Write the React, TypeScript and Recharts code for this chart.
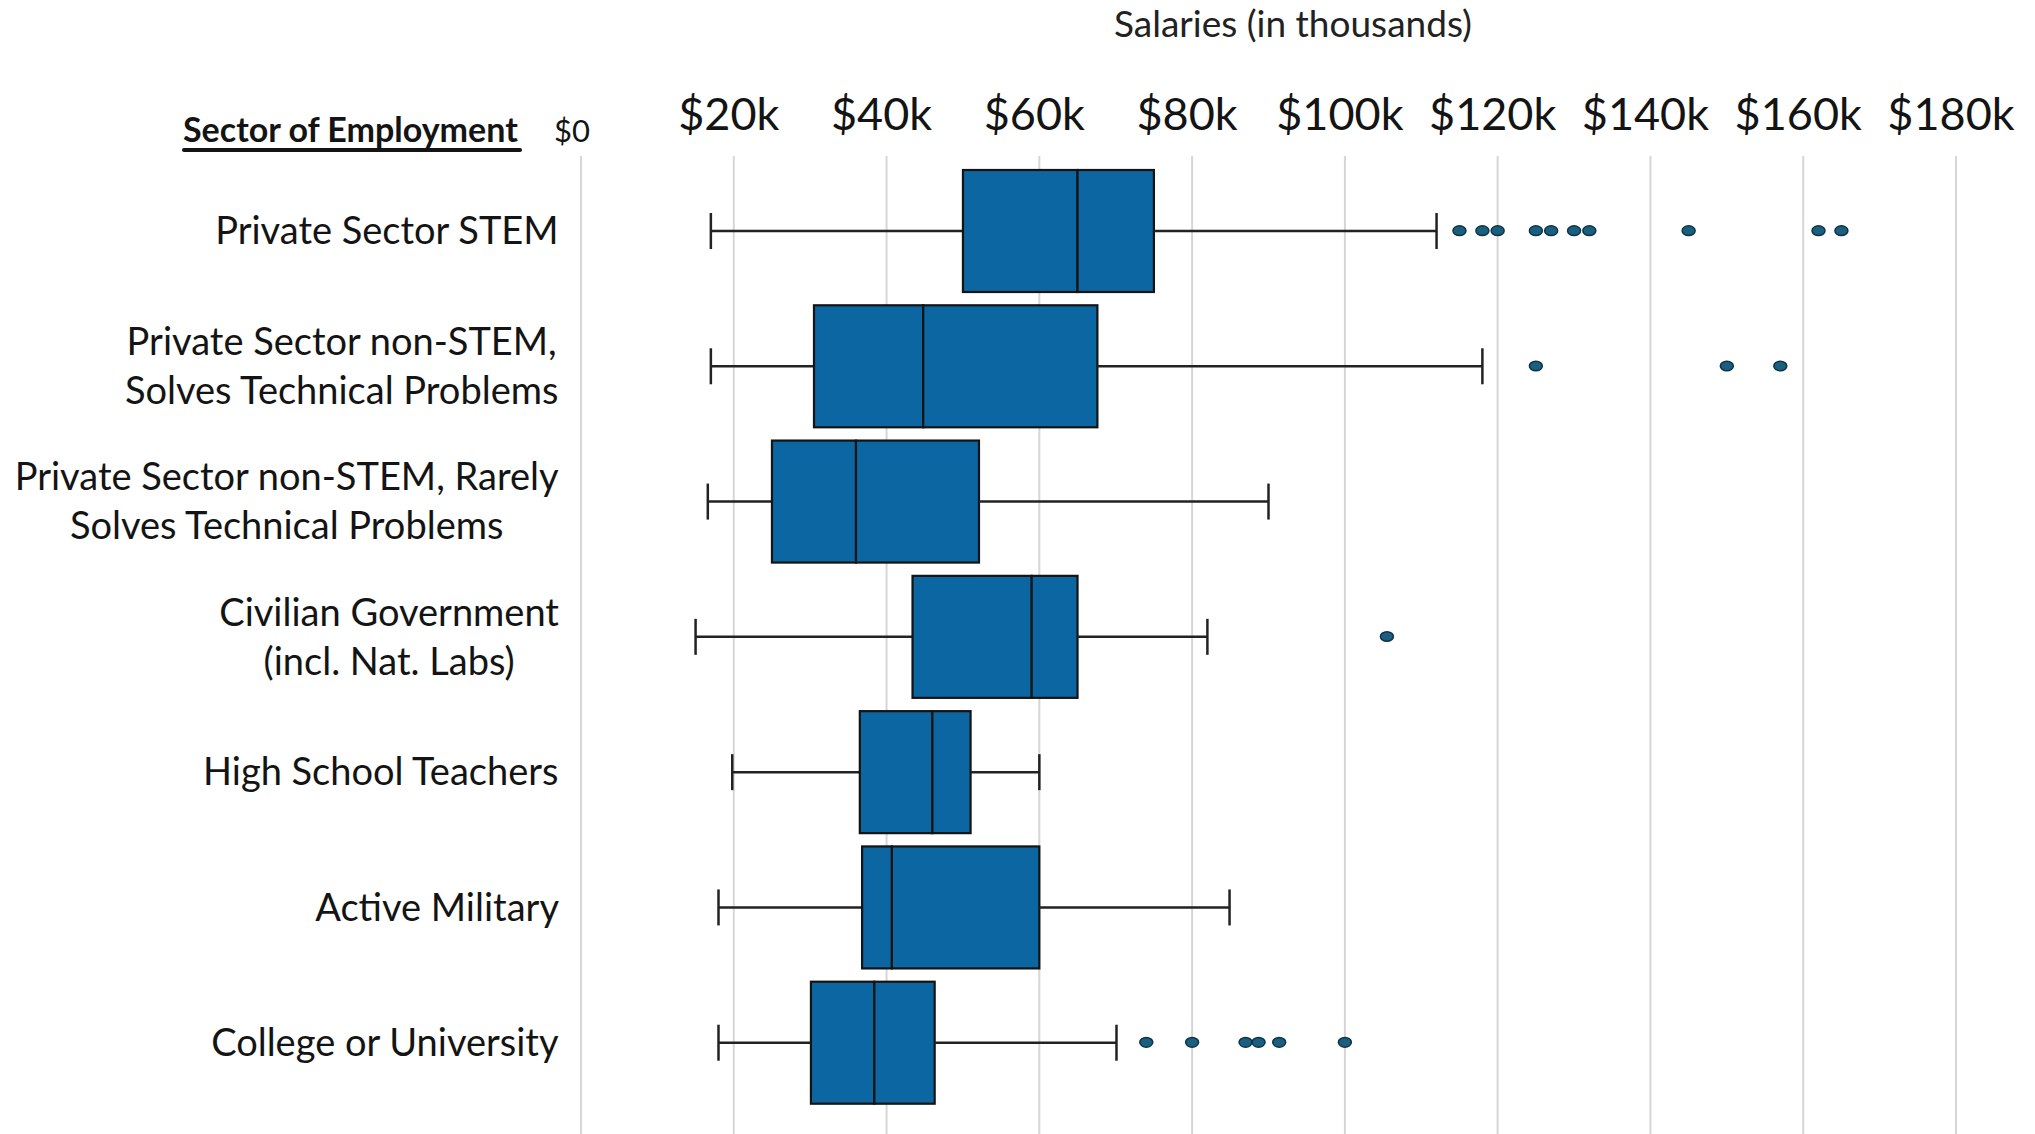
import React from 'react';
import { ComposedChart, Bar, Scatter, XAxis, YAxis, CartesianGrid } from 'recharts';

// sectors, top to bottom (\n = line break in the axis label)
const SECTORS = [
  'Private Sector STEM',
  'Private Sector non-STEM,\nSolves Technical Problems',
  'Private Sector non-STEM, Rarely\nSolves Technical Problems',
  'Civilian Government\n(incl. Nat. Labs)',
  'High School Teachers',
  'Active Military',
  'College or University',
];

// salaries in $k
const WHISKER_LOW = [17, 17, 16.6, 15, 19.8, 18, 18];
const Q1 = [50, 30.5, 25, 43.4, 36.5, 36.8, 30.1];
const MEDIAN = [65, 44.8, 36, 59, 46, 40.7, 38.4];
const Q3 = [75, 67.6, 52.1, 65, 51, 60, 46.3];
const WHISKER_HIGH = [112, 118, 90, 82, 60, 84.9, 70.1];
const OUTLIERS = [
  [115, 118, 120, 125, 127, 130, 132, 145, 162, 165],
  [125, 150, 157],
  [],
  [105.5],
  [],
  [],
  [74, 80, 87, 88.7, 91.4, 100],
];

const X_TICKS = [0, 20, 40, 60, 80, 100, 120, 140, 160, 180];

const BOX_FILL = '#0b66a2';
const INK = '#141414';
const FONT = 'Lato, "Open Sans", sans-serif';
const LABEL_SIZE = 38;
const LINE_GAP = 49;
const CAP = 36;

// stacked segments: transparent base, lower whisker, two box halves, upper whisker
const rows = SECTORS.map((name, i) => ({
  name,
  base: WHISKER_LOW[i],
  w1: Q1[i] - WHISKER_LOW[i],
  b1: MEDIAN[i] - Q1[i],
  b2: Q3[i] - MEDIAN[i],
  w2: WHISKER_HIGH[i] - Q3[i],
}));

const outlierPoints = OUTLIERS.flatMap((vals, i) => vals.map((v) => ({ name: SECTORS[i], value: v })));

const measureCtx = typeof document !== 'undefined' ? document.createElement('canvas').getContext('2d') : null;
const textWidth = (s: string, font: string) => {
  if (!measureCtx) return s.length * 18;
  measureCtx.font = font;
  return measureCtx.measureText(s).width;
};

const SectorTick = (props: any) => {
  const { x, y, payload } = props;
  const lines = String(payload.value).split('\n');
  const blockW = Math.max(...lines.map((l) => textWidth(l, `${LABEL_SIZE}px Lato`)));
  const cx = x - blockW / 2;
  const top = y - ((lines.length - 1) * LINE_GAP) / 2;
  return (
    <g>
      {lines.map((l, i) => (
        <text key={i} x={cx} y={top + i * LINE_GAP} dy="0.36em" textAnchor="middle" fontFamily={FONT} fontSize={LABEL_SIZE} fill={INK}>
          {l}
        </text>
      ))}
    </g>
  );
};

const SalaryTick = (props: any) => {
  const { x, y, payload } = props;
  const v = payload.value;
  if (v === 0) {
    return (
      <text x={x - 9} y={y + 12} textAnchor="middle" fontFamily={FONT} fontSize={31} fill={INK}>
        $0
      </text>
    );
  }
  return (
    <text x={x - 5} y={y} textAnchor="middle" fontFamily={FONT} fontSize={45} fill={INK}>
      {`$${v}k`}
    </text>
  );
};

const LowWhisker = (props: any) => {
  const { x, y, width, height } = props;
  const cy = y + height / 2;
  return (
    <g stroke="#222" strokeWidth={2.5}>
      <line x1={x} x2={x + width} y1={cy} y2={cy} />
      <line x1={x} x2={x} y1={cy - CAP / 2} y2={cy + CAP / 2} />
    </g>
  );
};

const HighWhisker = (props: any) => {
  const { x, y, width, height } = props;
  const cy = y + height / 2;
  return (
    <g stroke="#222" strokeWidth={2.5}>
      <line x1={x} x2={x + width} y1={cy} y2={cy} />
      <line x1={x + width} x2={x + width} y1={cy - CAP / 2} y2={cy + CAP / 2} />
    </g>
  );
};

const BoxHalf = (props: any) => {
  const { x, y, width, height } = props;
  return <rect x={x} y={y} width={width} height={height} fill={BOX_FILL} stroke={INK} strokeWidth={2.2} />;
};

const OutlierDot = (props: any) => {
  const { cx, cy } = props;
  return <ellipse cx={cx} cy={cy} rx={6.5} ry={4.8} fill="#1b5f80" stroke="#0d3346" strokeWidth={1.5} />;
};

export default function App() {
  return (
    <div style={{ position: 'absolute', left: 0, top: 0, width: 2035, height: 1134, background: '#fff' }}>
      <ComposedChart
        layout="vertical"
        width={2035}
        height={1134}
        data={rows}
        margin={{ top: 96, right: 79, bottom: 0, left: 0 }}
      >
        <CartesianGrid horizontal={false} stroke="#d6d6d6" strokeWidth={2} />
        <XAxis
          type="number"
          orientation="top"
          domain={[0, 180]}
          ticks={X_TICKS}
          height={60}
          axisLine={false}
          tickLine={false}
          tickSize={0}
          tickMargin={26}
          tick={<SalaryTick />}
        />
        <YAxis
          type="category"
          dataKey="name"
          width={581}
          allowDuplicatedCategory={false}
          axisLine={false}
          tickLine={false}
          tickSize={0}
          tickMargin={22}
          padding={{ top: 7, bottom: 24 }}
          interval={0}
          tick={<SectorTick />}
        />
        <Bar dataKey="base" stackId="box" barSize={122} fill="none" isAnimationActive={false} />
        <Bar dataKey="w1" stackId="box" barSize={122} shape={<LowWhisker />} isAnimationActive={false} />
        <Bar dataKey="b1" stackId="box" barSize={122} shape={<BoxHalf />} isAnimationActive={false} />
        <Bar dataKey="b2" stackId="box" barSize={122} shape={<BoxHalf />} isAnimationActive={false} />
        <Bar dataKey="w2" stackId="box" barSize={122} shape={<HighWhisker />} isAnimationActive={false} />
        <Scatter data={outlierPoints} dataKey="value" shape={<OutlierDot />} isAnimationActive={false} />
      </ComposedChart>
      <svg width={2035} height={1134} style={{ position: 'absolute', left: 0, top: 0, pointerEvents: 'none' }}>
        <text x={1293} y={37} textAnchor="middle" fontFamily={FONT} fontSize={37} fill="#222">
          Salaries (in thousands)
        </text>
        <text x={183} y={142} fontFamily={FONT} fontWeight={700} fontSize={34} fill={INK}>
          Sector of Employment
        </text>
        <line x1={184} x2={520} y1={150} y2={150} stroke={INK} strokeWidth={4} strokeLinecap="round" />
      </svg>
    </div>
  );
}
